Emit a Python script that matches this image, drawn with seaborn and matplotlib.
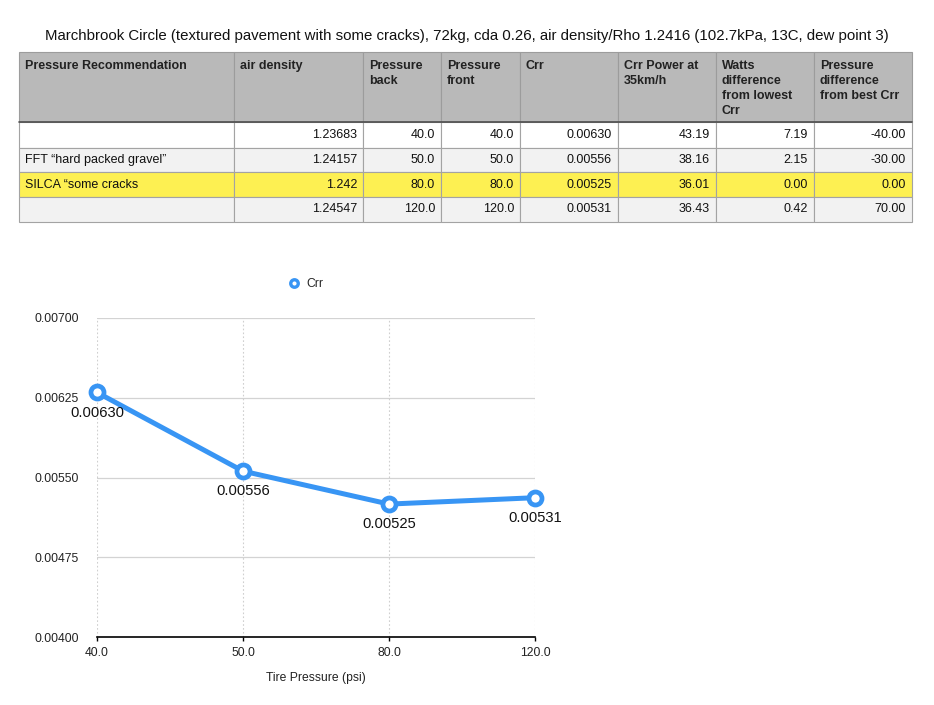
import pandas as pd
import matplotlib.pyplot as plt
import seaborn as sns
from matplotlib.patches import Rectangle
from matplotlib.lines import Line2D

sns.set_theme(style="white")
plt.rcParams['font.family'] = ['Liberation Sans', 'DejaVu Sans']

title = ("Marchbrook Circle (textured pavement with some cracks), 72kg, cda 0.26, "
         "air density/Rho 1.2416 (102.7kPa, 13C, dew point 3)")

# table data
headers = ["Pressure Recommendation", "air density", "Pressure\nback", "Pressure\nfront",
           "Crr", "Crr Power at\n35km/h", "Watts\ndifference\nfrom lowest\nCrr",
           "Pressure\ndifference\nfrom best Crr"]
recommendation = ["", "FFT \u201chard packed gravel\u201d", "SILCA \u201csome cracks", ""]
air_density = [1.23683, 1.24157, 1.242, 1.24547]
pressure_back = [40.0, 50.0, 80.0, 120.0]
pressure_front = [40.0, 50.0, 80.0, 120.0]
crr = [0.00630, 0.00556, 0.00525, 0.00531]
crr_power = [43.19, 38.16, 36.01, 36.43]
watts_diff = [7.19, 2.15, 0.00, 0.42]
pressure_diff = [-40.00, -30.00, 0.00, 70.00]

tick_labels = ["40.0", "50.0", "80.0", "120.0"]
y_ticks = [0.00400, 0.00475, 0.00550, 0.00625, 0.00700]

BLUE = "#3895f4"
W, H = 934, 705
fig = plt.figure(figsize=(W / 100, H / 100), dpi=100)

# ---- table (drawn in pixel coordinates) ----
tab = fig.add_axes([0, 0, 1, 1])
tab.set_xlim(0, W)
tab.set_ylim(H, 0)
tab.axis("off")

tab.text(467, 36, title, ha="center", va="center", fontsize=10.85, color="#111111")

col_edges = [19, 234, 363, 441, 520, 618, 716, 814, 912]
row_edges = [52, 122, 148, 172, 197, 222]
row_colors = ["#ffffff", "#f2f2f2", "#fdf052", "#f2f2f2"]

rows = []
for i in range(len(crr)):
    rows.append([recommendation[i], f"{air_density[i]:g}", f"{pressure_back[i]:.1f}",
                 f"{pressure_front[i]:.1f}", f"{crr[i]:.5f}", f"{crr_power[i]:.2f}",
                 f"{watts_diff[i]:.2f}", f"{pressure_diff[i]:.2f}"])

# header
for j, h in enumerate(headers):
    x0, x1 = col_edges[j], col_edges[j + 1]
    tab.add_patch(Rectangle((x0, row_edges[0]), x1 - x0, row_edges[1] - row_edges[0],
                            facecolor="#b9b9b9", edgecolor="#9c9c9c", lw=0.8))
    tab.text(x0 + 6, row_edges[0] + 8, h, ha="left", va="top", fontsize=9,
             fontweight="bold", color="#222222", linespacing=1.33)

for i, r in enumerate(rows):
    y0, y1 = row_edges[i + 1], row_edges[i + 2]
    for j, val in enumerate(r):
        x0, x1 = col_edges[j], col_edges[j + 1]
        tab.add_patch(Rectangle((x0, y0), x1 - x0, y1 - y0, facecolor=row_colors[i],
                                edgecolor="#a3a3a3", lw=0.8))
        if j == 0:
            tab.text(x0 + 6, (y0 + y1) / 2, val, ha="left", va="center", fontsize=9,
                     color="#111111")
        else:
            tab.text(x1 - 6, (y0 + y1) / 2, val, ha="right", va="center", fontsize=9,
                     color="#111111")

tab.plot([col_edges[0], col_edges[-1]], [row_edges[1], row_edges[1]], color="#4d4d4d", lw=1.2)

# ---- line chart ----
df = pd.DataFrame({"pressure": tick_labels, "Crr": crr})

ax = fig.add_axes([97 / W, 1 - 637 / H, (535 - 97) / W, (637 - 318) / H])
sns.pointplot(data=df, x="pressure", y="Crr", color=BLUE, markers="o", linestyles="-",
              errorbar=None, linewidth=3.6, markersize=9.4, markeredgewidth=3.4,
              markerfacecolor="white", ax=ax)
for ln in ax.lines:
    ln.set_clip_on(False)
    ln.set_zorder(5)

ax.set_xlim(0, len(tick_labels) - 1)
ax.set_ylim(y_ticks[0], y_ticks[-1])
ax.set_yticks(y_ticks)
ax.set_yticklabels([f"{v:.5f}" for v in y_ticks])
ax.set_xticks(range(len(tick_labels)))
ax.set_xticklabels(tick_labels)

for y in y_ticks[1:]:
    ax.axhline(y, color="#d3d3d3", lw=0.9, zorder=0)
for x in range(len(tick_labels)):
    ax.axvline(x, color="#cfcfcf", lw=0.8, ls=(0, (1.5, 2)), zorder=0)

for s in ["left", "right", "top"]:
    ax.spines[s].set_visible(False)
ax.spines["bottom"].set_color("black")
ax.spines["bottom"].set_linewidth(1.2)
ax.tick_params(axis="y", length=0, pad=13, labelsize=8.7, labelcolor="#222222")
ax.tick_params(axis="x", length=3, width=1, color="black", direction="out", pad=4.5,
               labelsize=8.7, labelcolor="#222222", bottom=True)
ax.set_ylabel("")
ax.set_xlabel("Tire Pressure (psi)", fontsize=8.7, color="#222222", labelpad=9)

for i, v in enumerate(crr):
    ax.annotate(f"{v:.5f}", (i, v), xytext=(0, -14.5), textcoords="offset points",
                ha="center", va="center", fontsize=10.6, color="#111111", zorder=6,
                annotation_clip=False)

handle = Line2D([], [], marker="o", linestyle="none", color=BLUE, markerfacecolor="white",
                markersize=5.4, markeredgewidth=2.4)
fig.legend(handles=[handle], labels=["Crr"], loc="center",
           bbox_to_anchor=(306 / W, 1 - 284 / H), frameon=False, fontsize=8.7,
           handlelength=1.0, handletextpad=0.5)

fig.savefig("out.png", dpi=100)
